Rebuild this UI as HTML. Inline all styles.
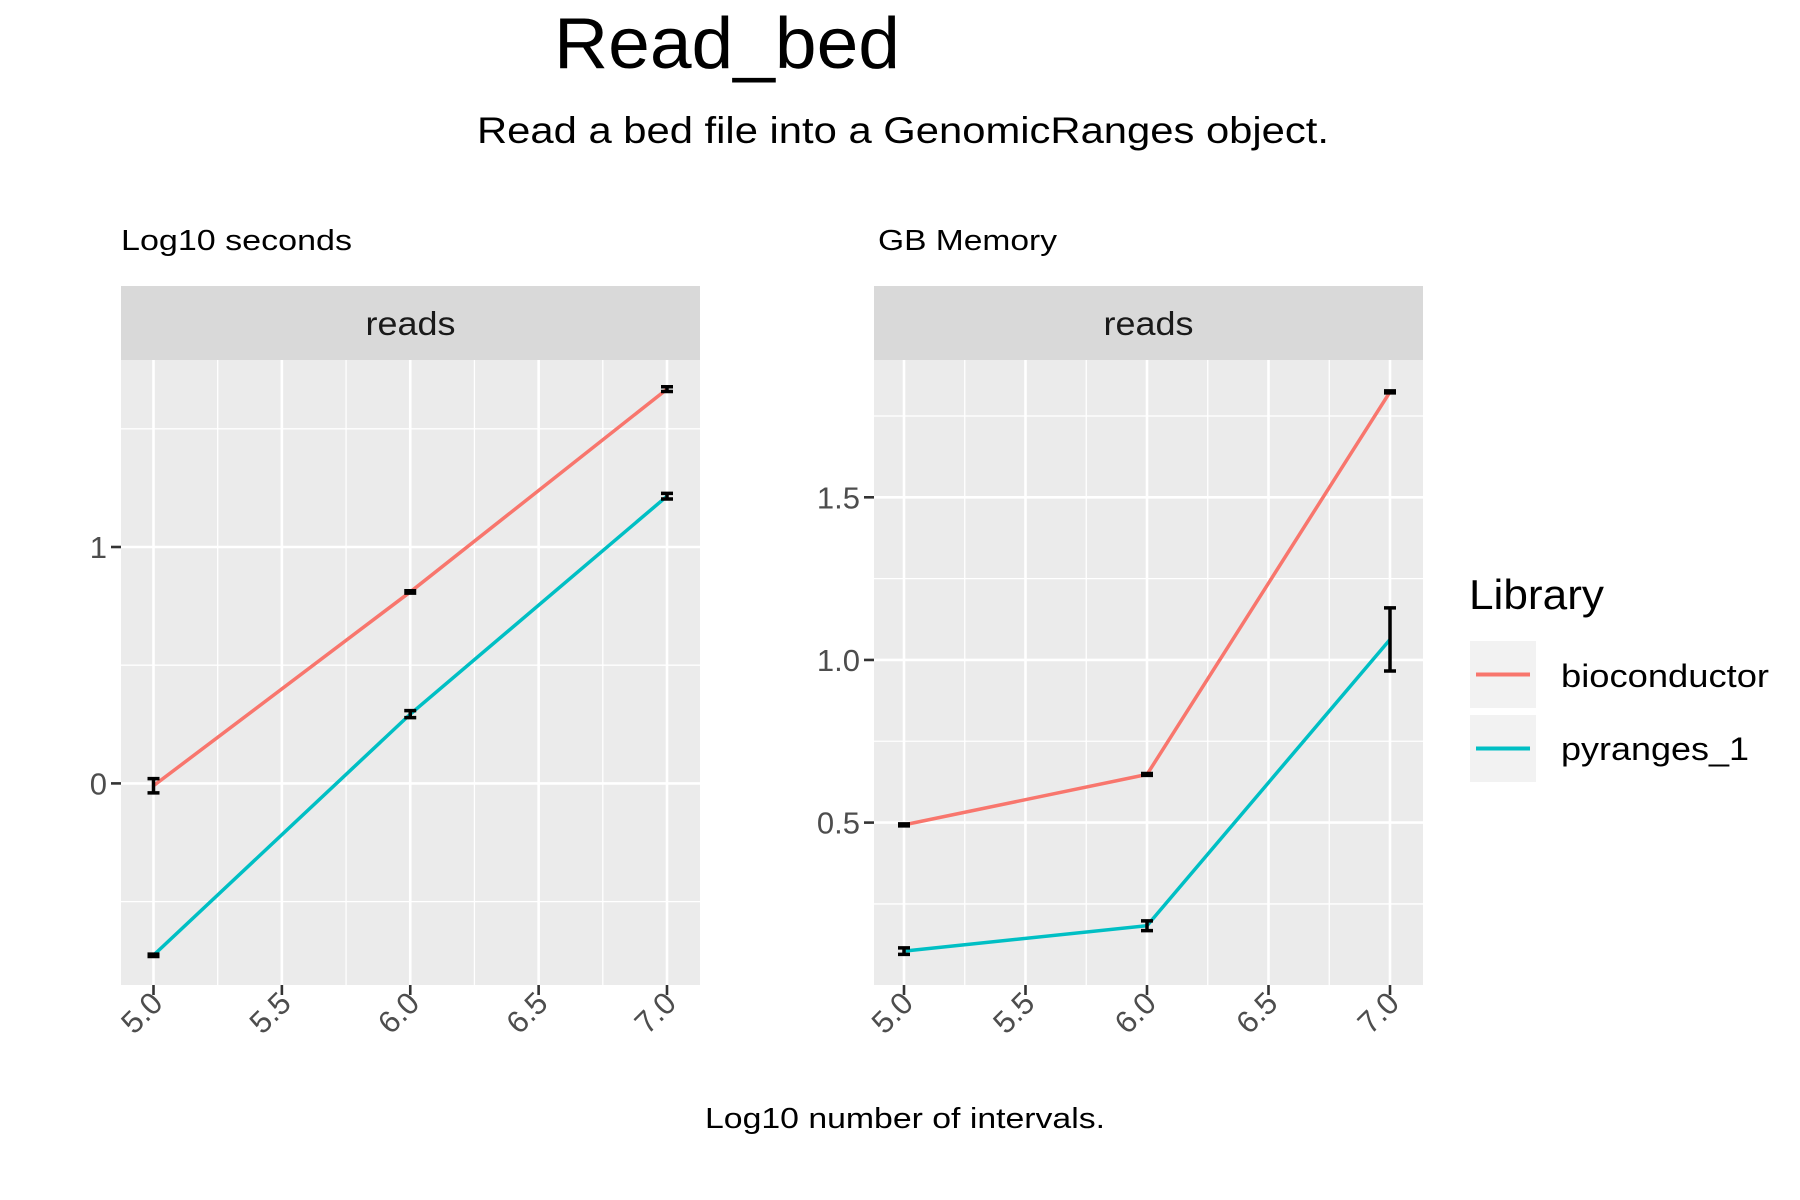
<!DOCTYPE html>
<html><head><meta charset="utf-8"><style>
body{margin:0;background:#fff;}
svg{display:block;font-family:"Liberation Sans",sans-serif;}
</style></head><body>
<svg id="c" width="1800" height="1200" viewBox="0 0 1800 1200">
<text x="554" y="68" font-size="72" textLength="346" lengthAdjust="spacingAndGlyphs" fill="#000">Read_bed</text>
<text x="477" y="143" font-size="37" textLength="852" lengthAdjust="spacingAndGlyphs" fill="#000">Read a bed file into a GenomicRanges object.</text>
<text x="121" y="250" font-size="29" textLength="231" lengthAdjust="spacingAndGlyphs" fill="#000">Log10 seconds</text>
<text x="878" y="250" font-size="29" textLength="179" lengthAdjust="spacingAndGlyphs" fill="#000">GB Memory</text>
<text x="705" y="1128" font-size="29" textLength="400" lengthAdjust="spacingAndGlyphs" fill="#000">Log10 number of intervals.</text>
<g>
<text x="1469" y="609" font-size="42" textLength="135" lengthAdjust="spacingAndGlyphs" fill="#000">Library</text>
<rect x="1470" y="641" width="66" height="67" fill="#f2f2f2"/>
<line x1="1476" x2="1530" y1="674.5" y2="674.5" stroke="#F8766D" stroke-width="4"/>
<text x="1561" y="687" font-size="32" textLength="208" lengthAdjust="spacingAndGlyphs" fill="#000">bioconductor</text>
<rect x="1470" y="715" width="66" height="67" fill="#f2f2f2"/>
<line x1="1476" x2="1530" y1="748.5" y2="748.5" stroke="#00BFC4" stroke-width="4"/>
<text x="1561" y="760" font-size="32" textLength="188" lengthAdjust="spacingAndGlyphs" fill="#000">pyranges_1</text>
</g>
</svg>
<script>
const xCats = [5, 6, 7];
const xTicks = [5.0, 5.5, 6.0, 6.5, 7.0];
const xTickLabels = ["5.0", "5.5", "6.0", "6.5", "7.0"];
const leftBioc = [-0.01, 0.81, 1.668];
const leftBiocErr = [0.03, 0.005, 0.01];
const leftPyr = [-0.727, 0.293, 1.215];
const leftPyrErr = [0.005, 0.015, 0.012];
const leftYTicks = [0, 1];
const leftYTickLabels = ["0", "1"];
const leftYMinor = [-0.5, 0.5, 1.5];
const rightBioc = [0.493, 0.648, 1.824];
const rightBiocErr = [0.003, 0.003, 0.003];
const rightPyr = [0.105, 0.183, 1.063];
const rightPyrErr = [0.01, 0.015, 0.097];
const rightYTicks = [0.5, 1.0, 1.5];
const rightYTickLabels = ["0.5", "1.0", "1.5"];
const rightYMinor = [0.25, 0.75, 1.25, 1.75];

const NS = "http://www.w3.org/2000/svg";
const svg = document.getElementById("c");
function mk(tag, attrs, parent) {
  const e = document.createElementNS(NS, tag);
  for (const k in attrs) e.setAttribute(k, attrs[k]);
  (parent || svg).appendChild(e);
  return e;
}
function panel(name, px0, px1, x5, x7, yv0, yp0, yv1, yp1, yTicks, yLabels, yMinor, bioc, biocErr, pyr, pyrErr) {
  const py0 = 360, py1 = 985;
  const X = v => x5 + (v - 5) * (x7 - x5) / 2;
  const Y = v => yp0 + (v - yv0) * (yp1 - yp0) / (yv1 - yv0);
  const g = mk("g", {});
  
  
  const strip = mk("rect", {x: px0, y: 286, width: px1 - px0, height: 74, fill: "#d9d9d9"}, g);
  
  
  const st = mk("text", {x: (px0 + px1) / 2, y: 335, "font-size": 33, "text-anchor": "middle", fill: "#1a1a1a", textLength: 90, lengthAdjust: "spacingAndGlyphs"}, g);
  st.textContent = "reads";
  
  
  const bg = mk("rect", {x: px0, y: py0, width: px1 - px0, height: py1 - py0, fill: "#ebebeb"}, g);
  
  
  for (let i = 0; i < xTicks.length - 1; i++) {
    const xm = X((xTicks[i] + xTicks[i + 1]) / 2);
    const l = mk("line", {x1: xm, x2: xm, y1: py0, y2: py1, stroke: "#fff", "stroke-width": 1.3}, g);
    
    
  }
  yMinor.forEach(v => {
    const l = mk("line", {x1: px0, x2: px1, y1: Y(v), y2: Y(v), stroke: "#fff", "stroke-width": 1.3}, g);
    
    
  });
  xTicks.forEach((v, i) => {
    const l = mk("line", {x1: X(v), x2: X(v), y1: py0, y2: py1, stroke: "#fff", "stroke-width": 2.6}, g);
    
    
    const t = mk("line", {x1: X(v), x2: X(v), y1: py1, y2: py1 + 10, stroke: "#333", "stroke-width": 2.6}, g);
    
    
    const ax = X(v) + 11, ay = py1 + 20;
    const tx = mk("text", {x: ax, y: ay, "font-size": 31, fill: "#4d4d4d", "text-anchor": "end", transform: "rotate(-45 " + ax + " " + ay + ")"}, g);
    tx.textContent = xTickLabels[i];
    
    
  });
  yTicks.forEach((v, i) => {
    const l = mk("line", {x1: px0, x2: px1, y1: Y(v), y2: Y(v), stroke: "#fff", "stroke-width": 2.6}, g);
    
    
    const t = mk("line", {x1: px0 - 10, x2: px0, y1: Y(v), y2: Y(v), stroke: "#333", "stroke-width": 2.6}, g);
    
    
    const tx = mk("text", {x: px0 - 14, y: Y(v) + 11, "font-size": 31, fill: "#4d4d4d", "text-anchor": "end"}, g);
    tx.textContent = yLabels[i];
    
    
  });
  [[bioc, biocErr, "#F8766D", "bioconductor"], [pyr, pyrErr, "#00BFC4", "pyranges"]].forEach(([vals, errs, col, sname]) => {
    const pts = vals.map((v, i) => X(xCats[i]) + "," + Y(v)).join(" ");
    const pl = mk("polyline", {points: pts, fill: "none", stroke: col, "stroke-width": 3.5}, g);
    
    
    vals.forEach((v, i) => {
      const x = X(xCats[i]), ya = Y(v + errs[i]), yb = Y(v - errs[i]);
      const eg = mk("path", {d: "M" + (x - 6) + "," + ya + "H" + (x + 6) + "M" + x + "," + ya + "V" + yb + "M" + (x - 6) + "," + yb + "H" + (x + 6), stroke: "#000", "stroke-width": 3.5, fill: "none"}, g);
      
      
    });
  });
}
panel("left", 121, 700, 153.5, 667, 0, 783.4, 1, 547, leftYTicks, leftYTickLabels, leftYMinor, leftBioc, leftBiocErr, leftPyr, leftPyrErr);
panel("right", 874, 1423, 904, 1390, 0.5, 822.6, 1.5, 497.3, rightYTicks, rightYTickLabels, rightYMinor, rightBioc, rightBiocErr, rightPyr, rightPyrErr);
</script>
</body></html>
